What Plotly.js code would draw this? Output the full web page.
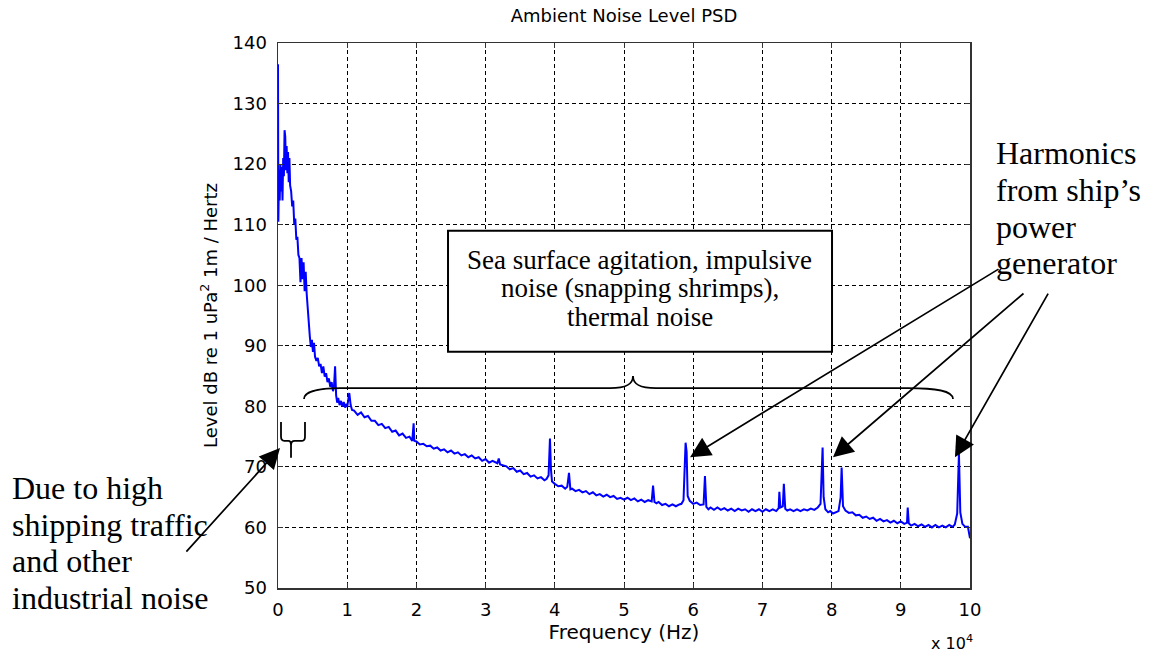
<!DOCTYPE html>
<html>
<head>
<meta charset="utf-8">
<script src="https://cdn.plot.ly/plotly-3.0.1.min.js"></script>
<style>html,body{margin:0;padding:0;background:#fff;}#chart{width:1153px;height:654px;}</style>
</head>
<body>
<div id="chart"></div>
<script>
// Frequency (Hz)
const freq = [
  0, 50, 150, 250, 350, 450, 550, 650, 750, 850,
  950, 1050, 1150, 1250, 1350, 1450, 1550, 1650, 1750, 1900,
  2050, 2200, 2350, 2500, 2650, 2800, 2950, 3100, 3250, 3400,
  3550, 3700, 3850, 4000, 4150, 4300, 4450, 4600, 4750, 4900,
  5050, 5200, 5350, 5550, 5750, 5950, 6150, 6350, 6550, 6750,
  6950, 7150, 7350, 7550, 7750, 7950, 8100, 8250, 8400, 8550,
  8700, 8900, 9100, 9300, 9500, 9700, 9900, 10000, 10300, 10500,
  10700, 11000, 11500, 12000, 12500, 13000, 13500, 14000, 14500, 15000,
  15500, 16000, 16500, 17000, 17500, 18000, 18500, 19000, 19400, 19600,
  19700, 20000, 20500, 21000, 21500, 22000, 22500, 23000, 23500, 24000,
  24500, 25000, 25500, 26000, 26500, 27000, 27500, 28000, 28500, 29000,
  29500, 30000, 30500, 31000, 31700, 31900, 32100, 32500, 33000, 33500,
  34000, 34500, 35000, 35500, 36000, 36500, 37000, 37500, 38000, 38500,
  38800, 39100, 39300, 39450, 39600, 40000, 40500, 41000, 41500, 41800,
  42050, 42250, 42500, 43000, 43500, 44000, 44500, 45000, 45500, 46000,
  46500, 47000, 47500, 48000, 48500, 49000, 49500, 50000, 50500, 51000,
  51500, 52000, 52500, 53000, 53500, 54000, 54200, 54400, 54700, 55000,
  55500, 56000, 56500, 57000, 57500, 58000, 58300, 58600, 58800, 58900,
  59050, 59200, 59500, 60000, 60500, 61000, 61500, 61700, 61900, 62200,
  62500, 63000, 63500, 64000, 64500, 65000, 65500, 66000, 66500, 67000,
  67500, 68000, 68500, 69000, 69500, 70000, 70500, 71000, 71500, 72000,
  72350, 72450, 72600, 72950, 73100, 73300, 73600, 74000, 74500, 75000,
  75500, 76000, 76500, 77000, 77500, 78000, 78400, 78550, 78700, 78850,
  79100, 79500, 79800, 80200, 80500, 81000, 81300, 81450, 81650, 82000,
  82500, 83000, 83500, 84000, 84500, 85000, 85500, 86000, 86500, 87000,
  87500, 88000, 88500, 89000, 89500, 90000, 90500, 90900, 91000, 91150,
  91500, 92000, 92500, 93000, 93500, 94000, 94500, 95000, 95500, 96000,
  96500, 97000, 97500, 97800, 98150, 98400, 98600, 98900, 99300, 99700, 100000
];
// Level dB re 1 uPa^2 1m / Hz
const level = [
  136.5, 110.5, 119, 114, 120, 115.5, 119.5, 114, 121, 118,
  125.6, 124.5, 119, 123, 118.5, 122, 117, 121, 116.5, 115.5,
  113, 114, 110, 111, 107.5, 108, 105, 104.5, 100.5, 104.5,
  101, 103.8, 99, 102.2, 98.5, 96, 92.6, 91.5, 89.8, 91,
  89, 90.5, 88.2, 87.5, 88, 86.6, 87, 85.5, 86.6, 84.9,
  85.5, 84, 84.6, 83.2, 84, 82.5, 83.4, 86.6, 81.8, 80.6,
  81.4, 80.2, 80.9, 80, 80.7, 79.8, 80.4, 79.9, 82.2, 80.2,
  79.4, 79.3, 78.6, 79.0, 78.2, 78.4, 77.6, 77.6, 76.9, 77.1,
  76.4, 76.6, 75.8, 76.0, 75.2, 75.5, 74.8, 75.0, 74.3, 77.2,
  74.3, 74.2, 73.7, 73.8, 73.4, 73.5, 73.0, 73.2, 72.7, 72.9,
  72.4, 72.7, 72.2, 72.4, 71.9, 72.1, 71.6, 71.9, 71.4, 71.6,
  71.0, 71.3, 70.7, 71.0, 70.6, 71.4, 70.4, 70.3, 70.1, 69.6,
  69.8, 69.2, 69.4, 68.8, 69.0, 68.4, 68.6, 68.1, 68.3, 67.8,
  68.0, 68.6, 74.7, 69.5, 67.6, 67.2, 66.8, 66.9, 66.4, 66.7,
  69.0, 66.3, 66.4, 66.0, 66.2, 65.8, 66.0, 65.5, 65.8, 65.3,
  65.5, 65.1, 65.4, 65.0, 65.2, 64.7, 64.9, 64.6, 64.9, 64.5,
  64.8, 64.3, 64.6, 64.2, 64.5, 64.3, 66.9, 64.2, 64.0, 64.2,
  63.7, 63.9, 63.5, 63.8, 63.5, 63.8, 63.9, 64.5, 70.0, 74.0,
  72.5, 65.2, 64.4, 63.9, 64.1, 63.7, 63.8, 68.5, 63.4, 63.0,
  63.3, 62.9, 63.3, 62.9, 63.2, 62.8, 63.1, 62.7, 63.1, 62.8,
  63.0, 62.6, 63.0, 62.7, 63.0, 62.6, 63.0, 62.7, 63.0, 62.7,
  63.2, 65.9, 63.3, 63.5, 67.2, 63.1, 62.8, 63.0, 62.7, 63.0,
  62.7, 63.0, 62.8, 63.1, 62.9, 63.3, 63.9, 67.4, 73.2, 65.0,
  63.0, 62.5, 62.7, 62.3, 62.5, 62.7, 64.9, 69.9, 63.5, 62.8,
  62.4, 62.5, 62.0, 62.1, 61.6, 61.8, 61.4, 61.6, 61.1, 61.4,
  61.0, 61.2, 60.8, 61.1, 60.7, 61.0, 60.6, 60.8, 63.3, 60.7,
  60.3, 60.6, 60.2, 60.5, 60.1, 60.4, 60.0, 60.4, 60.0, 60.3,
  60.0, 60.4, 60.1, 60.5, 62.3, 72.2, 62.5, 60.6, 60.1, 60.1, 58.2
];
const xTickVals = [0, 10000, 20000, 30000, 40000, 50000, 60000, 70000, 80000, 90000, 100000];
const xTickText = ['0', '1', '2', '3', '4', '5', '6', '7', '8', '9', '10'];
const yTickVals = [50, 60, 70, 80, 90, 100, 110, 120, 130, 140];

const sans = 'DejaVu Sans, sans-serif';
const serif = 'Liberation Serif, Times New Roman, serif';

const trace = {
  x: freq, y: level, type: 'scatter', mode: 'lines',
  line: {color: '#0000ff', width: 2}, hoverinfo: 'skip'
};

function txt(text, x, y, size, anchor) {
  return {text: text, xref: 'paper', yref: 'paper', x: x, y: y, xanchor: anchor || 'left', yanchor: 'middle',
          showarrow: false, font: {family: serif, size: size, color: '#000'}};
}
function arrow(x, y, ax, ay) {
  return {text: '', x: x, y: y, xref: 'x', yref: 'y', ax: ax, ay: ay, showarrow: true,
          arrowhead: 2, arrowsize: 2.4, arrowwidth: 1.7, arrowcolor: '#000', standoff: 0};
}

const layout = {
  width: 1153, height: 654,
  margin: {l: 278, r: 183, t: 43, b: 66},
  paper_bgcolor: '#fff', plot_bgcolor: '#fff',
  showlegend: false,
  title: {text: 'Ambient Noise Level PSD', x: 0.5, xref: 'paper', xanchor: 'center',
          y: 1 - 16 / 654, yref: 'container', yanchor: 'middle',
          font: {family: sans, size: 18, color: '#000'}},
  xaxis: {
    range: [0, 100000], tickmode: 'array', tickvals: xTickVals, ticktext: xTickText,
    showgrid: true, gridcolor: '#000', gridwidth: 1, griddash: '4px,3px',
    zeroline: false, showline: true, linecolor: '#333', linewidth: 1.5, mirror: 'ticks',
    ticks: 'inside', ticklen: 5, tickcolor: '#333', ticklabelstandoff: 5,
    tickfont: {family: sans, size: 18, color: '#000'},
    title: {text: 'Frequency (Hz)', standoff: 6, font: {family: sans, size: 20, color: '#000'}}
  },
  yaxis: {
    range: [50, 140], tickmode: 'array', tickvals: yTickVals,
    showgrid: true, gridcolor: '#000', gridwidth: 1, griddash: '4px,3px',
    zeroline: false, showline: true, linecolor: '#333', linewidth: 1.5, mirror: 'ticks',
    ticks: 'inside', ticklen: 5, tickcolor: '#333', ticklabelstandoff: 6,
    tickfont: {family: sans, size: 18, color: '#000'},
    title: {text: 'Level dB re 1 uPa<sup>2</sup> 1m / Hertz', standoff: 10, font: {family: sans, size: 18, color: '#000'}}
  },
  shapes: [
    // text box
    {type: 'rect', xref: 'x', yref: 'y', x0: 24570, x1: 80060, y0: 89.0, y1: 109.0,
     line: {color: '#000', width: 2}, fillcolor: '#fff', layer: 'above'},
    // large brace
    {type: 'path', xref: 'x', yref: 'y', layer: 'above', line: {color: '#000', width: 1.8},
     path: 'M 3760,81.2 C 3760,82.6 6500,83.0 9000,83.0 L 48000,83.0 C 50300,83.0 51300,83.6 51300,85.0 ' +
           'C 51300,83.6 52300,83.0 54600,83.0 L 91000,83.0 C 95000,83.0 97540,82.6 97540,81.2'},
    // small brace
    {type: 'path', xref: 'x', yref: 'y', layer: 'above', line: {color: '#000', width: 1.8},
     path: 'M 434,77.4 L 434,75.0 C 434,74.5 600,74.3 900,74.3 L 1500,74.3 C 1800,74.3 1880,74.1 1880,73.6 L 1880,71.5 ' +
           'M 1880,73.6 C 1880,74.1 2000,74.3 2400,74.3 L 3500,74.3 C 3800,74.3 3900,74.5 3900,75.0 L 3900,77.4'}
  ],
  annotations: [
    txt('Sea surface agitation, impulsive', 0.5231, 0.6018, 27, 'center'),
    txt('noise (snapping shrimps),', 0.5231, 0.5505, 27, 'center'),
    txt('thermal noise', 0.5231, 0.4972, 27, 'center'),
    txt('Due to high', -0.3873, 0.1835, 32),
    txt('shipping traffic', -0.3873, 0.1165, 32),
    txt('and other', -0.3873, 0.0495, 32),
    txt('industrial noise', -0.3873, -0.0183, 32),
    txt('Harmonics', 1.035, 0.798, 32),
    txt('from ship\u2019s', 1.035, 0.730, 32),
    txt('power', 1.035, 0.662, 32),
    txt('generator', 1.035, 0.596, 32),
    {text: 'x 10<sup>4</sup>', xref: 'paper', yref: 'paper', x: 1.0072, y: -0.1009, xanchor: 'right', yanchor: 'middle',
     showarrow: false, font: {family: sans, size: 16, color: '#000'}},
    arrow(290, 73.1, -95, 105),
    arrow(59540, 71.6, 310, -189),
    arrow(80200, 71.6, 192, -165),
    arrow(97830, 71.6, 94, -165)
  ]
};

Plotly.newPlot('chart', [trace], layout, {displayModeBar: false, staticPlot: true});
</script>
</body>
</html>
